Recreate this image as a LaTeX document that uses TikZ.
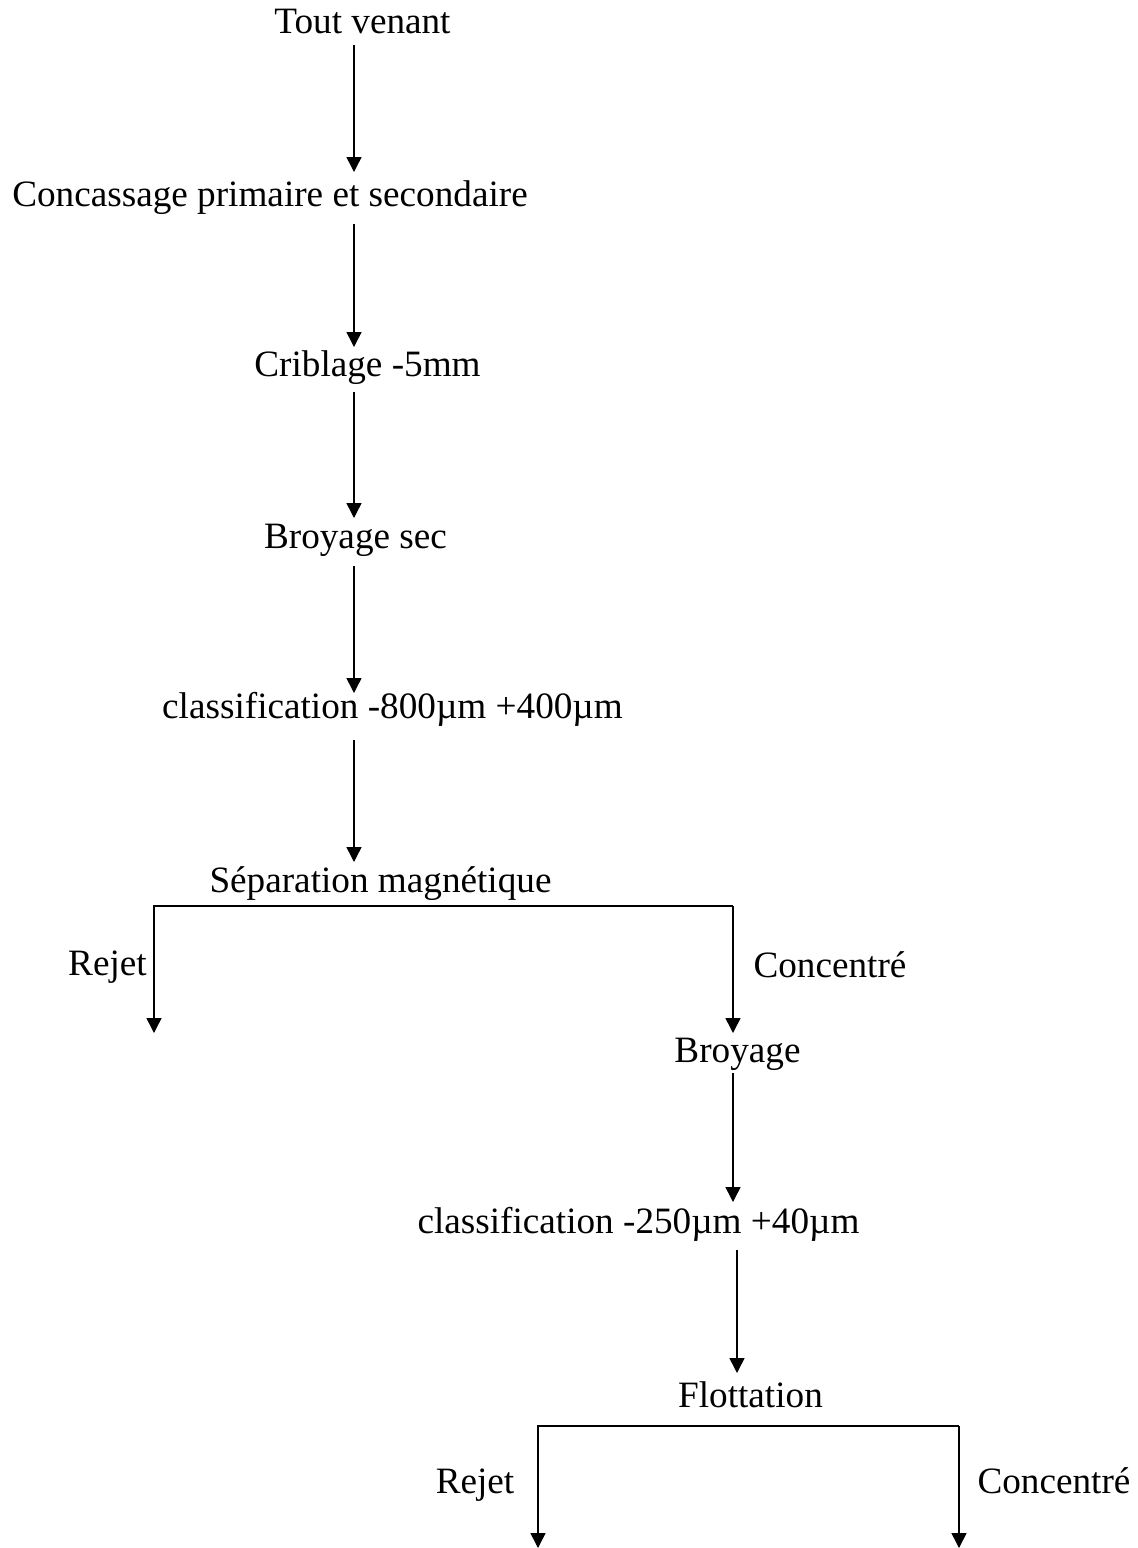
\documentclass[tikz,border=0pt]{standalone}
\usepackage{fontspec}
\setmainfont{Liberation Serif}[Ligatures=NoCommon]
\usetikzlibrary{arrows.meta,calc}
\begin{document}
\begin{tikzpicture}[x=1pt,y=-1pt,
  lbl/.style={anchor=base,inner sep=0pt,font=\fontsize{37.2}{44}\selectfont},
  arr/.style={line width=1.5pt,-{Triangle[length=15pt,width=15pt]}},
  ln/.style={line width=1.5pt}]
\useasboundingbox (0,0) rectangle (1138,1548);

% process steps
\node[lbl] (tv) at (362.5,33)   {Tout venant};
\node[lbl] (cc) at (270,206)    {Concassage primaire et secondaire};
\node[lbl] (cr) at (367.5,376)  {Criblage -5mm};
\node[lbl] (bs) at (355.5,548)  {Broyage sec};
\node[lbl] (c1) at (392.5,718)  {classification -800µm +400µm};
\node[lbl] (sm) at (380.5,892)  {Séparation magnétique};
\node[lbl] (r1) at (107.5,975)  {Rejet};
\node[lbl] (k1) at (830,977)    {Concentré};
\node[lbl] (br) at (737.5,1062) {Broyage};
\node[lbl] (c2) at (638.5,1233) {classification -250µm +40µm};
\node[lbl] (fl) at (750.5,1407) {Flottation};
\node[lbl] (r2) at (475,1493)   {Rejet};
\node[lbl] (k2) at (1054,1493)  {Concentré};

% columns of the connectors
\coordinate (xa) at (354,0);
\coordinate (xl) at (154,0);
\coordinate (xb) at (733,0);
\coordinate (xc) at (737,0);
\coordinate (xd) at (538,0);
\coordinate (xe) at (959,0);

% main line
\draw[arr] ($(tv.base -| xa)+(0,12)$) -- ($(cc.base -| xa)+(0,-34)$);
\draw[arr] ($(cc.base -| xa)+(0,18)$) -- ($(cr.base -| xa)+(0,-29)$);
\draw[arr] ($(cr.base -| xa)+(0,16)$) -- ($(bs.base -| xa)+(0,-30)$);
\draw[arr] ($(bs.base -| xa)+(0,18)$) -- ($(c1.base -| xa)+(0,-25)$);
\draw[arr] ($(c1.base -| xa)+(0,22)$) -- ($(sm.base -| xa)+(0,-30)$);

% magnetic separation split
\coordinate (s1l) at ($(sm.base -| xl)+(0,14)$);
\coordinate (s1r) at ($(sm.base -| xb)+(0,14)$);
\draw[arr] (s1r) -- (s1l) -- ($(r1.base -| xl)+(0,58)$);
\draw[arr] (s1r) -- ($(br.base -| xb)+(0,-29)$);

\draw[arr] ($(br.base -| xb)+(0,11)$) -- ($(c2.base -| xb)+(0,-31)$);
\draw[arr] ($(c2.base -| xc)+(0,17)$) -- ($(fl.base -| xc)+(0,-34)$);

% flotation split
\coordinate (s2l) at ($(fl.base -| xd)+(0,19)$);
\coordinate (s2r) at ($(fl.base -| xe)+(0,19)$);
\draw[arr] (s2r) -- (s2l) -- ($(r2.base -| xd)+(0,55)$);
\draw[arr] (s2r) -- ($(k2.base -| xe)+(0,55)$);
\end{tikzpicture}
\end{document}
